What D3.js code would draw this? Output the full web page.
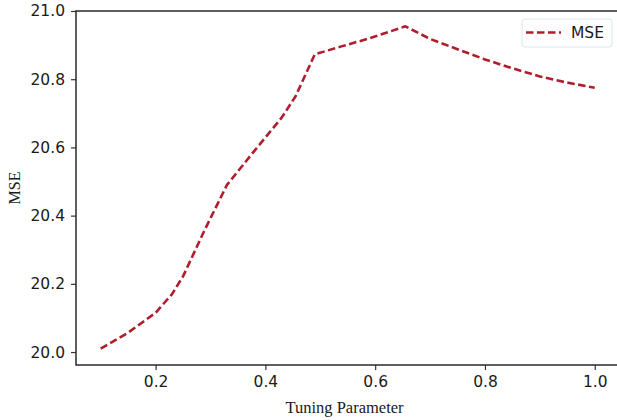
<!DOCTYPE html>
<html>
<head>
<meta charset="utf-8">
<script src="https://cdn.jsdelivr.net/npm/d3@7"></script>
<style>
  html, body { margin: 0; padding: 0; background: #fff; }
  svg { display: block; }
</style>
</head>
<body>
<svg id="chart" width="617" height="420"></svg>
<script>
// Tuning parameter values and resulting mean squared error
const tuningParams = [0.10, 0.15, 0.20, 0.23, 0.25, 0.29, 0.33, 0.38, 0.43, 0.455, 0.49,
                      0.54, 0.59, 0.655, 0.70, 0.75, 0.80, 0.85, 0.90, 0.95, 1.00];
const mseValues    = [20.010, 20.057, 20.115, 20.170, 20.222, 20.360, 20.490, 20.590, 20.688, 20.750, 20.873,
                      20.897, 20.920, 20.955, 20.918, 20.888, 20.858, 20.832, 20.808, 20.790, 20.775];
const xTicks = [0.2, 0.4, 0.6, 0.8, 1.0];
const yTicks = [20.0, 20.2, 20.4, 20.6, 20.8, 21.0];
const seriesName = "MSE";
const xLabel = "Tuning Parameter";
const yLabel = "MSE";

const data = tuningParams.map((t, i) => ({ t, v: mseValues[i] }));

const svg = d3.select("#chart");
const plotLeft = 76, plotRight = 620, plotTop = 11, plotBottom = 365;

const x = d3.scaleLinear().domain([0.055, 1.046]).range([plotLeft, plotRight]);
const y = d3.scaleLinear().domain([19.962, 21.0]).range([plotBottom, plotTop]);

const lineColor = "#b01e2e";
const tickFont = "'DejaVu Sans', sans-serif";
const labelFont = "'Liberation Serif', 'Times New Roman', serif";

// Axes
const xAxis = svg.append("g")
  .attr("transform", `translate(0,${plotBottom})`)
  .call(d3.axisBottom(x).tickValues(xTicks).tickFormat(d3.format(".1f")).tickSize(5).tickPadding(6));
const yAxis = svg.append("g")
  .attr("transform", `translate(${plotLeft},0)`)
  .call(d3.axisLeft(y).tickValues(yTicks).tickFormat(d3.format(".1f")).tickSize(5).tickPadding(6));

[xAxis, yAxis].forEach(g => {
  g.select(".domain").remove();
  g.selectAll(".tick line").attr("stroke", "#333").attr("stroke-width", 1.2);
  g.selectAll(".tick text")
    .attr("fill", "#1a1a1a")
    .style("font-family", tickFont)
    .style("font-size", "15.5px");
});

// Frame (spines)
svg.append("rect")
  .attr("x", plotLeft).attr("y", plotTop)
  .attr("width", plotRight - plotLeft).attr("height", plotBottom - plotTop)
  .attr("fill", "none").attr("stroke", "#2a2a2a").attr("stroke-width", 1.5);

// MSE curve
const line = d3.line().x(d => x(d.t)).y(d => y(d.v));
svg.append("path")
  .datum(data)
  .attr("d", line)
  .attr("fill", "none")
  .attr("stroke", lineColor)
  .attr("stroke-width", 2.6)
  .attr("stroke-dasharray", "7.5,3.5")
  .attr("stroke-linejoin", "round");

// Axis labels
svg.append("text")
  .attr("x", (plotLeft + 617) / 2 - 2).attr("y", 413)
  .attr("text-anchor", "middle")
  .style("font-family", labelFont).style("font-size", "16.5px")
  .attr("fill", "#1a1a1a")
  .text(xLabel);

svg.append("text")
  .attr("transform", `translate(20,${(plotTop + plotBottom) / 2}) rotate(-90)`)
  .attr("text-anchor", "middle")
  .style("font-family", labelFont).style("font-size", "16px")
  .attr("fill", "#1a1a1a")
  .text(yLabel);

// Legend
const legend = svg.append("g").attr("transform", "translate(522,19)");
legend.append("rect")
  .attr("width", 90).attr("height", 28).attr("rx", 3)
  .attr("fill", "#fff").attr("stroke", "#dde6ea").attr("stroke-width", 1);
legend.append("line")
  .attr("x1", 4).attr("x2", 39).attr("y1", 13.5).attr("y2", 13.5)
  .attr("stroke", lineColor).attr("stroke-width", 2.6)
  .attr("stroke-dasharray", "7.5,3.5");
legend.append("text")
  .attr("x", 49).attr("y", 19)
  .style("font-family", tickFont).style("font-size", "15.5px")
  .attr("fill", "#1a1a1a")
  .text(seriesName);
</script>
</body>
</html>
